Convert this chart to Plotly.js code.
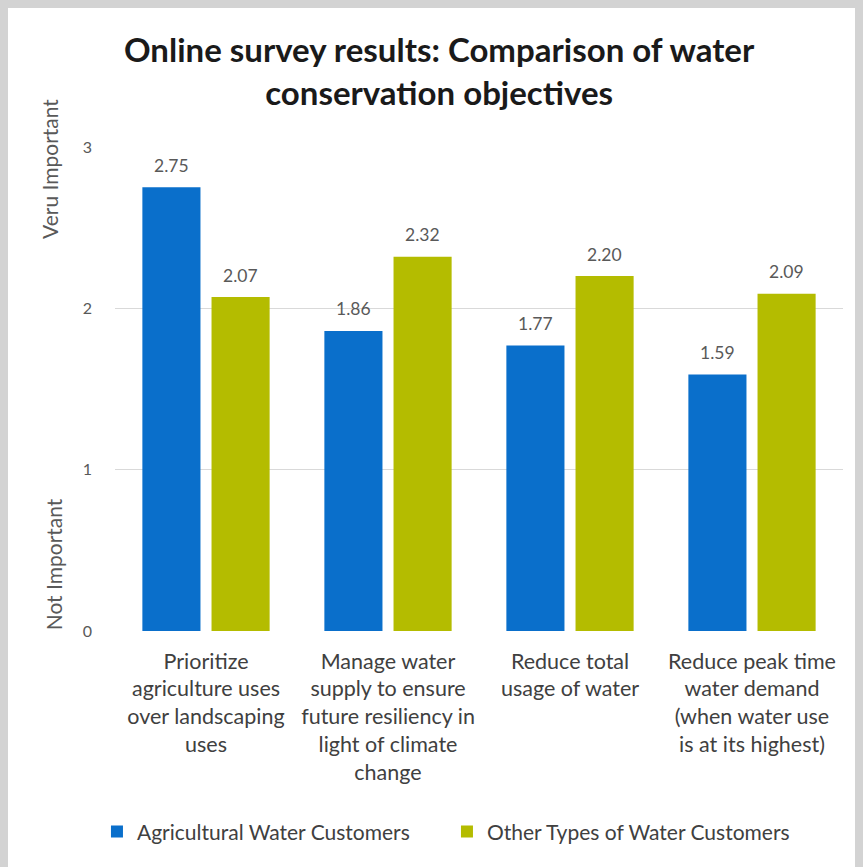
<!DOCTYPE html>
<html>
<head>
<meta charset="utf-8">
<script src="https://cdn.plot.ly/plotly-3.0.1.min.js"></script>
<style>
  html, body { margin: 0; padding: 0; background: #d3d3d3; width: 863px; height: 867px; overflow: hidden; }
  #chart { position: absolute; left: 8px; top: 8px; width: 847px; height: 859px; background: #ffffff; }
</style>
</head>
<body>
<div id="chart"></div>
<script>
const categories = [
  "Prioritize<br>agriculture uses<br>over landscaping<br>uses",
  "Manage water<br>supply to ensure<br>future resiliency in<br>light of climate<br>change",
  "Reduce total<br>usage of water",
  "Reduce peak time<br>water demand<br>(when water use<br>is at its highest)"
];
const seriesNames = ["Agricultural Water Customers", "Other Types of Water Customers"];
const agricultural = [2.75, 1.86, 1.77, 1.59];
const otherTypes = [2.07, 2.32, 2.20, 2.09];
const yTickVals = [0, 1, 2, 3];
const yTickText = ["0", "1", "2", "3"];

const FONT = "Lato, 'Open Sans', sans-serif";
const blue = "#0a6fcb";
const green = "#b4bc00";

const traces = [
  { type: "bar", name: seriesNames[0], x: categories, y: agricultural, marker: { color: blue }, hoverinfo: "skip" },
  { type: "bar", name: seriesNames[1], x: categories, y: otherTypes, marker: { color: green }, hoverinfo: "skip" }
];

const annotations = [];
[agricultural, otherTypes].forEach((vals, si) => {
  vals.forEach((v, i) => {
    annotations.push({
      xref: "x", yref: "y", x: categories[i], y: v,
      xshift: si === 0 ? -34.5 : 34.5, yshift: 22,
      yanchor: "middle", xanchor: "center",
      text: v.toFixed(2), showarrow: false,
      font: { family: FONT, size: 17.5, color: "#595959" }
    });
  });
});
annotations.push({
  xref: "paper", yref: "paper", x: -0.089, y: 0.955, xanchor: "center", yanchor: "middle",
  text: "Veru Important", textangle: -90, showarrow: false,
  font: { family: FONT, size: 21, color: "#595959" }
});
annotations.push({
  xref: "paper", yref: "paper", x: -0.085, y: 0.138, xanchor: "center", yanchor: "middle",
  text: "Not Important", textangle: -90, showarrow: false,
  font: { family: FONT, size: 21, color: "#595959" }
});

const layout = {
  width: 847, height: 859,
  paper_bgcolor: "#ffffff", plot_bgcolor: "#ffffff",
  margin: { l: 107, r: 12, t: 139, b: 236 },
  title: {
    text: "<b>Online survey results: Comparison of water<br>conservation objectives</b>",
    x: 0.509, xanchor: "center", y: 0.937, yanchor: "top",
    font: { family: FONT, size: 33, color: "#1a1a1a" }
  },
  barmode: "group", bargap: 0.24, bargroupgap: 0.16,
  xaxis: {
    type: "category", showgrid: false, zeroline: false, showline: false,
    ticks: "", ticklabelstandoff: 15, tickangle: 0,
    tickfont: { family: FONT, size: 21.5, color: "#404040" }
  },
  yaxis: {
    range: [0, 3], tickvals: yTickVals, ticktext: yTickText,
    showgrid: true, gridcolor: "#d9d9d9", gridwidth: 1.5,
    zeroline: false, showline: false, ticks: "",
    ticklabelstandoff: 22,
    tickfont: { family: FONT, size: 16, color: "#595959" }
  },
  showlegend: true,
  legend: {
    orientation: "h", x: 0.456, xanchor: "center", y: -0.415, yanchor: "middle",
    font: { family: FONT, size: 21, color: "#404040" },
    entrywidth: 305, entrywidthmode: "pixels",
    itemsizing: "constant", traceorder: "normal"
  },
  annotations: annotations
};

Plotly.newPlot("chart", traces, layout, { displayModeBar: false, staticPlot: true });
</script>
</body>
</html>
